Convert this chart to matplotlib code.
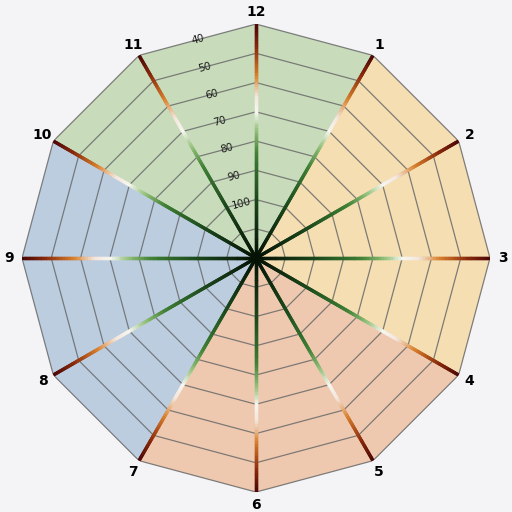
import numpy as np
import matplotlib.pyplot as plt
from matplotlib.collections import LineCollection
from matplotlib.colors import LinearSegmentedColormap

# clock positions, clockwise from the top
hour_labels = ['12', '1', '2', '3', '4', '5', '6', '7', '8', '9', '10', '11']
ring_values = [40, 50, 60, 70, 80, 90, 100, 110]
ring_labels = ['40', '50', '60', '70', '80', '90', '100']
r_center, r_outer = 120, 40

# quadrant fills: (first hour, last hour, colour)
quad_start = [10, 1, 4, 7]
quad_end = [1, 4, 7, 10]
quad_colors = ['#c8dcbb', '#f4deb2', '#efc9af', '#bccde0']

# spoke colour from outer edge (0) to centre (1)
spoke_cmap = LinearSegmentedColormap.from_list('spoke', [
    (0.00, '#4a0606'), (0.10, '#8a2a0c'), (0.22, '#d8802c'),
    (0.31, '#f4e6dc'), (0.38, '#f6f6f0'), (0.46, '#93c07a'),
    (0.56, '#3f7f35'), (0.75, '#1d4a1d'), (1.00, '#061206')])

angles = np.arange(12) * 2 * np.pi / 12

fig = plt.figure(figsize=(5.12, 5.12), dpi=100, facecolor='#f4f3f5')
ax = fig.add_axes([0.043, 0.039, 0.914, 0.914], projection='polar')
ax.set_theta_zero_location('N')
ax.set_theta_direction(-1)
ax.set_rlim(r_center, r_outer)
ax.patch.set_visible(False)
ax.spines['polar'].set_visible(False)
ax.grid(False)
ax.set_yticks([])

# coloured quadrants
for h0, h1, col in zip(quad_start, quad_end, quad_colors):
    hrs = [(h0 + k) % 12 for k in range((h1 - h0) % 12 + 1)]
    th = [angles[h] for h in hrs]
    ax.fill([th[0]] + th + [th[-1]], [r_center] + [r_outer] * len(th) + [r_center],
            color=col, lw=0, zorder=1)

# polygon rings
th_closed = np.append(angles, angles[0])
for v in ring_values:
    ax.plot(th_closed, [v] * 13, color='#6a6a6a', lw=0.9, alpha=0.85, zorder=2)

# gradient spokes
n = 80
rr = np.linspace(r_outer, r_center, n + 1)
for a in angles:
    pts = np.column_stack([np.full(n + 1, a), rr])
    segs = np.stack([pts[:-1], pts[1:]], axis=1)
    lc = LineCollection(segs, colors=spoke_cmap(np.linspace(0, 1, n)),
                        linewidths=2.4, capstyle='projecting', zorder=3)
    ax.add_collection(lc)

# hour labels
ax.set_xticks(angles)
ax.set_xticklabels(hour_labels, fontsize=10, fontweight='bold')
ax.tick_params(axis='x', pad=-1.5)

# value labels along the edge between 11 and 12
lab_th = 2 * np.pi - np.pi / 12
c15 = np.cos(np.pi / 12)
for v, s in zip(ring_values, ring_labels):
    ax.text(lab_th, r_center - c15 * (r_center - v), s, fontsize=7.5,
            rotation=15, ha='center', va='center', color='#1a1a1a', zorder=4)

fig.savefig('out.png', dpi=100, facecolor=fig.get_facecolor())
